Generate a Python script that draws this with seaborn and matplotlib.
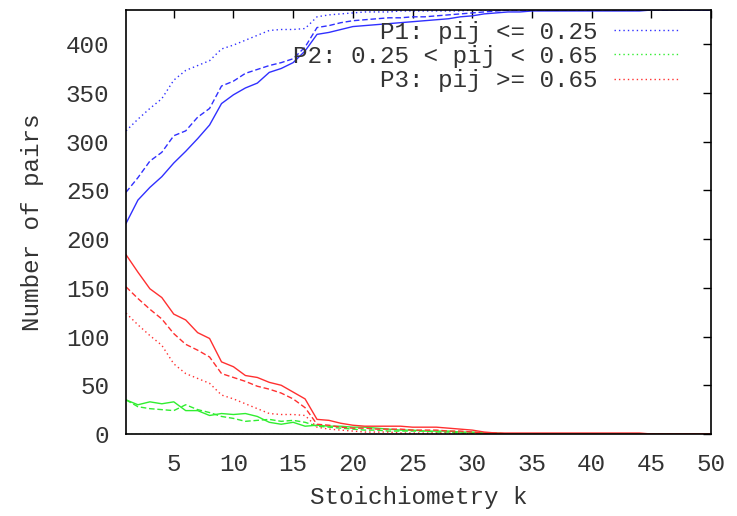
import numpy as np
import pandas as pd
import seaborn as sns
import matplotlib.pyplot as plt
from matplotlib.lines import Line2D

# stoichiometry k = 1..50
k = list(range(1, 51))

# P1: pij <= 0.25  (solid / dashed / dotted)
p1_solid = [216, 240, 253, 264, 278, 290, 303, 317, 339, 348,
            355, 360, 371, 375, 381, 393, 410, 412, 415, 418,
            419, 420, 421, 422, 423, 424, 425, 426, 428, 429,
            431, 432, 433, 433, 434, 434, 434, 434, 434, 434,
            434, 434, 434, 434, 435, 435, 435, 435, 435, 435]
p1_dashed = [248, 263, 280, 289, 306, 311, 325, 334, 357, 362,
             370, 374, 378, 381, 385, 397, 417, 419, 422, 424,
             425, 426, 427, 427, 428, 428, 429, 430, 431, 432,
             433, 434, 435, 435, 435, 435, 435, 435, 435, 435,
             435, 435, 435, 435, 435, 435, 435, 435, 435, 435]
p1_dotted = [311, 323, 334, 344, 363, 373, 378, 383, 395, 399,
             404, 409, 414, 415, 415, 416, 428, 430, 431, 432,
             433, 433, 433, 434, 434, 434, 434, 434, 434, 435,
             435, 435, 435, 435, 435, 435, 435, 435, 435, 435,
             435, 435, 435, 435, 435, 435, 435, 435, 435, 435]

# P2: 0.25 < pij < 0.65
p2_solid = [35, 30, 33, 31, 33, 24, 24, 19, 21, 20,
            21, 18, 12, 10, 12, 8, 9, 8, 8, 7,
            7, 6, 5, 4, 4, 3, 3, 3, 2, 2,
            1, 1, 0, 0, 0, 0, 0, 0, 0, 0,
            0, 0, 0, 0, 0, 0, 0, 0, 0, 0]
p2_dashed = [35, 28, 26, 25, 24, 30, 25, 22, 18, 16,
             13, 14, 15, 13, 14, 12, 8, 7, 6, 5,
             4, 4, 3, 3, 3, 3, 2, 2, 1, 1,
             1, 0, 0, 0, 0, 0, 0, 0, 0, 0,
             0, 0, 0, 0, 0, 0, 0, 0, 0, 0]
p2_dotted = [0] * 50

# P3: pij >= 0.65
p3_solid = [184, 166, 149, 140, 123, 117, 104, 98, 74, 69,
            60, 58, 53, 50, 43, 36, 15, 14, 11, 9,
            8, 8, 8, 8, 7, 7, 7, 6, 5, 4,
            2, 1, 1, 1, 1, 1, 1, 1, 1, 1,
            1, 1, 1, 1, 0, 0, 0, 0, 0, 0]
p3_dashed = [151, 139, 128, 118, 103, 92, 86, 79, 62, 58,
             54, 49, 46, 42, 36, 27, 10, 9, 7, 6,
             6, 5, 5, 5, 4, 4, 4, 3, 3, 2,
             1, 1, 0, 0, 0, 0, 0, 0, 0, 0,
             0, 0, 0, 0, 0, 0, 0, 0, 0, 0]
p3_dotted = [124, 112, 101, 91, 72, 62, 57, 52, 40, 36,
             31, 26, 21, 20, 20, 19, 7, 5, 4, 3,
             2, 2, 2, 1, 1, 1, 1, 1, 1, 0,
             0, 0, 0, 0, 0, 0, 0, 0, 0, 0,
             0, 0, 0, 0, 0, 0, 0, 0, 0, 0]

labels = ["P1: pij <= 0.25", "P2: 0.25 < pij < 0.65", "P3: pij >= 0.65"]
colors = {"P1": "#3030ff", "P2": "#30ee30", "P3": "#ff3030"}

series = {
    ("P1", "solid"): p1_solid, ("P1", "dashed"): p1_dashed, ("P1", "dotted"): p1_dotted,
    ("P2", "solid"): p2_solid, ("P2", "dashed"): p2_dashed, ("P2", "dotted"): p2_dotted,
    ("P3", "solid"): p3_solid, ("P3", "dashed"): p3_dashed, ("P3", "dotted"): p3_dotted,
}
rows = []
for (grp, kind), vals in series.items():
    for kk, v in zip(k, vals):
        rows.append({"k": kk, "n": v, "group": grp, "kind": kind})
df = pd.DataFrame(rows)

sns.set_theme(style="white")
plt.rcParams["font.family"] = ["Liberation Mono", "DejaVu Sans Mono"]

fig = plt.figure(figsize=(7.37, 5.16), dpi=100)
ax = fig.add_axes([126 / 737, 82 / 516, 585 / 737, 424 / 516])

sns.lineplot(data=df, x="k", y="n", hue="group", style="kind",
             palette=colors, hue_order=["P2", "P3", "P1"],
             dashes={"solid": "", "dashed": (4, 2), "dotted": (1, 2.2)},
             linewidth=1.0, legend=False, ax=ax)

ax.set_xlim(1, 50)
ax.set_ylim(0, 435)
ax.set_xticks(range(5, 51, 5))
ax.set_yticks(range(0, 401, 50))
ax.tick_params(direction="in", top=True, right=True, length=6, width=1,
               labelsize=17.5, colors="black", labelcolor="#333333")
ax.tick_params(axis="x", pad=14)
ax.tick_params(axis="y", pad=12)
for s in ax.spines.values():
    s.set_color("black")
    s.set_linewidth(1.2)

ax.set_xlabel("Stoichiometry k", fontsize=17.5, color="#333333", labelpad=7)
ax.set_ylabel("Number of pairs", fontsize=17.5, color="#333333", labelpad=16)

handles = [Line2D([], [], color=colors[g], linestyle=(0, (1, 2.2)), linewidth=1.0)
           for g in ["P1", "P2", "P3"]]
ax.legend(handles, labels, loc="upper right", bbox_to_anchor=(0.946, 0.975),
          frameon=False, markerfirst=False, fontsize=17.5, handlelength=2.7,
          handletextpad=0.65, labelspacing=0.05, borderpad=0, borderaxespad=0,
          labelcolor="#333333")

fig.savefig("out.png", dpi=100)
